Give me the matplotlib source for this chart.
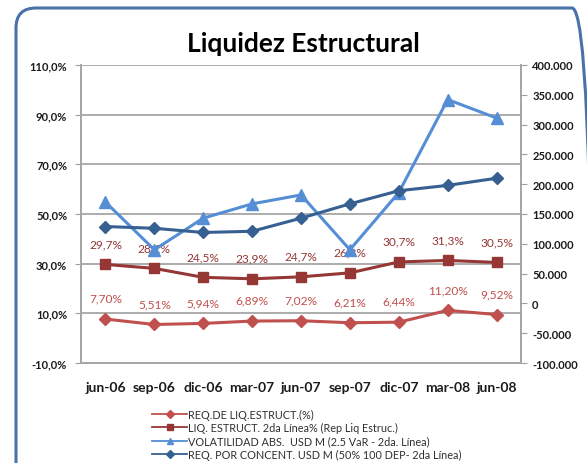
import matplotlib.pyplot as plt
from matplotlib.patches import FancyBboxPatch
from matplotlib.lines import Line2D
from matplotlib.transforms import IdentityTransform
from matplotlib.ticker import FuncFormatter

plt.rcParams['font.family'] = ['Lato', 'DejaVu Sans']

periods = ['jun-06', 'sep-06', 'dic-06', 'mar-07', 'jun-07', 'sep-07', 'dic-07', 'mar-08', 'jun-08']

# left axis (%)
req_liq = [7.70, 5.51, 5.94, 6.89, 7.02, 6.21, 6.44, 11.20, 9.52]
liq_estruct = [29.7, 28.1, 24.5, 23.9, 24.7, 26.3, 30.7, 31.3, 30.5]
# right axis (USD M)
volatilidad = [170000, 90000, 143000, 167000, 182000, 90000, 186000, 342000, 311000]
req_concent = [129000, 126000, 119000, 121000, 143000, 167000, 189000, 198000, 210000]

labels = ['REQ.DE LIQ.ESTRUCT.(%)',
          'LIQ. ESTRUCT. 2da Línea% (Rep Liq Estruc.)',
          'VOLATILIDAD ABS.  USD M (2.5 VaR - 2da. Línea)',
          'REQ. POR CONCENT. USD M (50% 100 DEP- 2da Línea)']

c_req = '#C0504D'
c_liq = '#953735'
c_vol = '#558ED5'
c_con = '#376092'

fig = plt.figure(figsize=(5.87, 4.64), dpi=100)
ax = fig.add_axes([0.138, 0.2155, 0.7496, 0.6423])
ax2 = ax.twinx()

x = list(range(len(periods)))

# rounded outer frame (runs off the right and bottom edges)
frame = FancyBboxPatch((16, -20), 576, 475, boxstyle='round,pad=0,rounding_size=20',
                       transform=IdentityTransform(), fill=False, ec='#4A72A8', lw=2.2)
fig.patches.append(frame)

ax.plot(x, req_liq, color=c_req, lw=2.2, marker='D', ms=6.5, zorder=3)
ax.plot(x, liq_estruct, color=c_liq, lw=2.2, marker='s', ms=7, zorder=3)
ax2.plot(x, volatilidad, color=c_vol, lw=2.2, marker='^', ms=8, zorder=3)
ax2.plot(x, req_concent, color=c_con, lw=2.2, marker='D', ms=6, zorder=3)

for xi, v in zip(x, liq_estruct):
    ax.annotate(f'{v:.1f}%'.replace('.', ','), (xi, v), xytext=(0, 15), textcoords='offset points',
                ha='center', va='center', fontsize=8.6, color=c_liq)
for xi, v in zip(x, req_liq):
    ax.annotate(f'{v:.2f}%'.replace('.', ','), (xi, v), xytext=(0, 15), textcoords='offset points',
                ha='center', va='center', fontsize=8.6, color=c_req)

ax.set_xlim(-0.5, 8.5)
ax.set_ylim(-10, 110)
ax.set_yticks(range(-10, 111, 20))
ax.yaxis.set_major_formatter(FuncFormatter(lambda v, p: f'{v:.1f}%'.replace('.', ',')))
ax2.set_ylim(-100000, 400000)
ax2.set_yticks(range(-100000, 400001, 50000))
ax2.yaxis.set_major_formatter(FuncFormatter(lambda v, p: f'{int(v):,}'.replace(',', '.')))

ax.set_xticks(x)
ax.set_xticklabels(periods, fontsize=10, fontweight='bold', color='#1A1A1A')
ax.tick_params(axis='x', length=0, pad=13)
ax.tick_params(axis='y', labelsize=8, length=4, color='#A0A0A0', pad=6, labelcolor='#1A1A1A')
ax2.tick_params(axis='y', labelsize=8, length=4, color='#A0A0A0', pad=4, labelcolor='#1A1A1A')
for t in ax.get_yticklabels() + ax2.get_yticklabels():
    t.set_fontweight('bold')

ax.grid(axis='y', color='#A6A6A6', lw=1.3)
for a in (ax, ax2):
    for s in a.spines.values():
        s.set_color('#A6A6A6')
        s.set_linewidth(1.3)
    a.spines['top'].set_visible(False)

fig.text(0.517, 0.905, 'Liquidez Estructural', ha='center', va='center',
         fontsize=19, fontweight='bold', color='black')

handles = [Line2D([], [], color=c_req, lw=1.3, marker='D', ms=4),
           Line2D([], [], color=c_liq, lw=1.3, marker='s', ms=4),
           Line2D([], [], color=c_vol, lw=1.3, marker='^', ms=4),
           Line2D([], [], color=c_con, lw=1.3, marker='D', ms=4)]
fig.legend(handles, labels, loc='upper left', bbox_to_anchor=(0.25, 0.128), frameon=False,
           fontsize=7.8, handlelength=3.2, handletextpad=0.1, labelspacing=0.2,
           borderpad=0, labelcolor='#303030')

fig.savefig('out.png', dpi=100)
